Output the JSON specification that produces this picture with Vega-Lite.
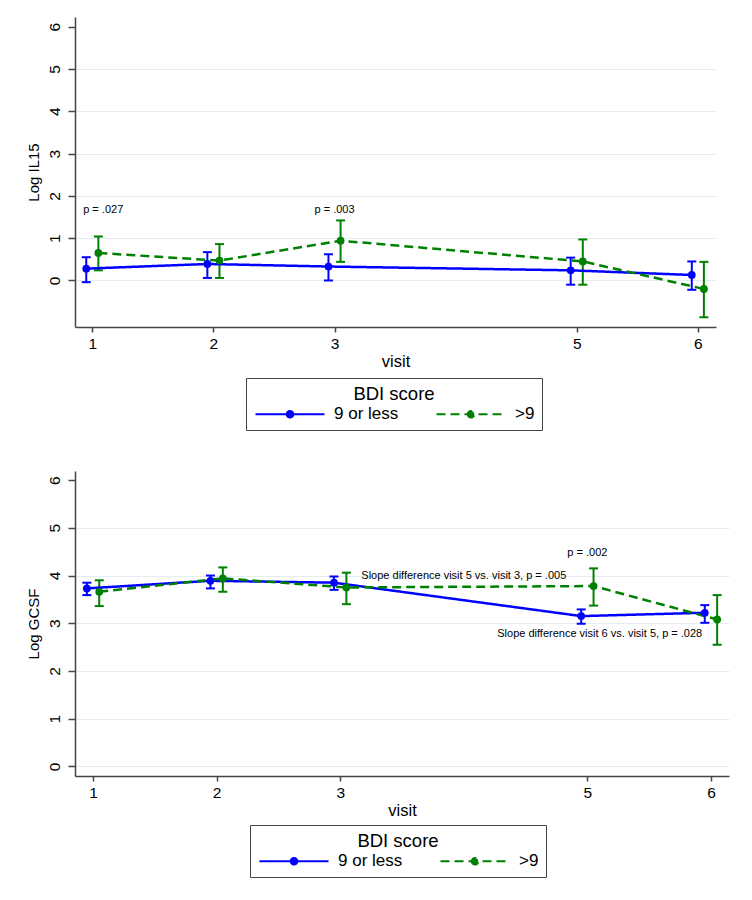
{
  "$schema": "https://vega.github.io/schema/vega-lite/v6.json",
  "background": "white",
  "padding": {"left": 25, "top": 17, "right": 5, "bottom": 5},
  "spacing": 40,
  "config": {
    "view": {"stroke": null},
    "font": "Liberation Sans",
    "axis": {
      "domainColor": "#444", "domainWidth": 1.5, "tickColor": "#444", "tickWidth": 1.5,
      "labelFont": "Liberation Sans", "labelFontSize": 15.5, "labelColor": "#000",
      "titleFont": "Liberation Sans", "titleFontWeight": "normal", "titleColor": "#000",
      "gridColor": "#e4edf0", "gridWidth": 1.2
    },
    "axisX": {"grid": false, "tickSize": 5, "labelPadding": 4, "titlePadding": 2, "titleFontSize": 16.5, "labelFlush": false},
    "axisY": {"tickSize": 7, "labelAngle": 270, "labelAlign": "center", "labelBaseline": "bottom", "labelPadding": 6, "titlePadding": 6, "titleFontSize": 15},
    "legend": {
      "orient": "none", "direction": "horizontal", "columns": 2,
      "symbolType": "M-1,0H10.5M4.2,0a0.55,0.55 0 1,0 1.1,0a0.55,0.55 0 1,0 -1.1,0",
      "symbolSize": 144, "symbolStrokeWidth": 2, "labelOffset": 64, "columnPadding": 33,
      "titleAnchor": "middle", "titleAlign": "center", "titleFont": "Liberation Sans", "titleFontSize": 18.5, "titleFontWeight": "normal", "titleColor": "#000", "titlePadding": 2,
      "labelFont": "Liberation Sans", "labelFontSize": 17, "labelColor": "#000",
      "strokeColor": "#444", "padding": 7
    }
  },
  "datasets": {
    "il15": [
      {"visit": 1, "x": 0.95, "group": "9 or less", "mean": 0.28, "lo": -0.04, "hi": 0.55},
      {"visit": 2, "x": 1.95, "group": "9 or less", "mean": 0.39, "lo": 0.06, "hi": 0.67},
      {"visit": 3, "x": 2.95, "group": "9 or less", "mean": 0.33, "lo": 0.0, "hi": 0.62},
      {"visit": 5, "x": 4.95, "group": "9 or less", "mean": 0.24, "lo": -0.10, "hi": 0.54},
      {"visit": 6, "x": 5.95, "group": "9 or less", "mean": 0.13, "lo": -0.22, "hi": 0.45},
      {"visit": 1, "x": 1.05, "group": ">9", "mean": 0.65, "lo": 0.24, "hi": 1.04},
      {"visit": 2, "x": 2.05, "group": ">9", "mean": 0.47, "lo": 0.06, "hi": 0.86},
      {"visit": 3, "x": 3.05, "group": ">9", "mean": 0.94, "lo": 0.44, "hi": 1.42},
      {"visit": 5, "x": 5.05, "group": ">9", "mean": 0.45, "lo": -0.10, "hi": 0.97},
      {"visit": 6, "x": 6.05, "group": ">9", "mean": -0.20, "lo": -0.87, "hi": 0.44}
    ],
    "il15_notes": [
      {"x": 1.09, "y": 1.67, "text": "p = .027"},
      {"x": 3.0, "y": 1.67, "text": "p = .003"}
    ],
    "gcsf": [
      {"visit": 1, "x": 0.95, "group": "9 or less", "mean": 3.73, "lo": 3.59, "hi": 3.85},
      {"visit": 2, "x": 1.95, "group": "9 or less", "mean": 3.89, "lo": 3.73, "hi": 4.00},
      {"visit": 3, "x": 2.95, "group": "9 or less", "mean": 3.85, "lo": 3.70, "hi": 3.98},
      {"visit": 5, "x": 4.95, "group": "9 or less", "mean": 3.15, "lo": 2.99, "hi": 3.29},
      {"visit": 6, "x": 5.95, "group": "9 or less", "mean": 3.22, "lo": 3.01, "hi": 3.38},
      {"visit": 1, "x": 1.05, "group": ">9", "mean": 3.66, "lo": 3.36, "hi": 3.90},
      {"visit": 2, "x": 2.05, "group": ">9", "mean": 3.94, "lo": 3.66, "hi": 4.17},
      {"visit": 3, "x": 3.05, "group": ">9", "mean": 3.75, "lo": 3.40, "hi": 4.06},
      {"visit": 5, "x": 5.05, "group": ">9", "mean": 3.78, "lo": 3.37, "hi": 4.15},
      {"visit": 6, "x": 6.05, "group": ">9", "mean": 3.08, "lo": 2.55, "hi": 3.59}
    ],
    "gcsf_notes": [
      {"x": 4.0, "y": 3.98, "text": "Slope difference visit 5 vs. visit 3, p = .005"},
      {"x": 5.0, "y": 4.47, "text": "p = .002"},
      {"x": 5.10, "y": 2.78, "text": "Slope difference visit 6 vs. visit 5, p = .028"}
    ]
  },
  "resolve": {
    "scale": {"x": "independent", "y": "independent", "color": "independent", "strokeDash": "independent"},
    "legend": {"color": "independent", "strokeDash": "independent"}
  },
  "vconcat": [
    {
      "width": 641,
      "height": 310,
      "data": {"name": "il15"},
      "encoding": {
        "x": {"field": "x", "type": "quantitative", "scale": {"domain": [0.857, 6.15], "nice": false, "zero": false},
              "axis": {"values": [1, 2, 3, 5, 6], "title": "visit", "format": "d"}},
        "color": {"field": "group", "type": "nominal", "scale": {"domain": ["9 or less", ">9"], "range": ["#0000ff", "#008000"]},
                  "legend": {"title": "BDI score", "legendX": 171, "legendY": 361,
                             "encode": {"symbols": {"update": {"fill": {"signal": "datum.value === '9 or less' ? '#0000ff' : '#008000'"}, "fillOpacity": {"value": 1}}}}}}
      },
      "layer": [
        {
          "mark": {"type": "rule", "strokeWidth": 2},
          "encoding": {
            "y": {"field": "lo", "type": "quantitative", "scale": {"domain": [-1.1, 6.23], "nice": false, "zero": false},
                  "axis": {"values": [0, 1, 2, 3, 4, 5, 6], "title": "Log IL15", "grid": true,
                           "gridOpacity": {"condition": {"test": "datum.value === 6", "value": 0}, "value": 1}}},
            "y2": {"field": "hi"}
          }
        },
        {
          "mark": {"type": "tick", "orient": "horizontal", "size": 9, "thickness": 2, "opacity": 1},
          "encoding": {"y": {"field": "lo", "type": "quantitative"}}
        },
        {
          "mark": {"type": "tick", "orient": "horizontal", "size": 9, "thickness": 2, "opacity": 1},
          "encoding": {"y": {"field": "hi", "type": "quantitative"}}
        },
        {
          "mark": {"type": "line", "strokeWidth": 2.5},
          "encoding": {
            "y": {"field": "mean", "type": "quantitative"},
            "strokeDash": {"field": "group", "type": "nominal", "scale": {"domain": ["9 or less", ">9"], "range": [[1, 0], [9, 5]]},
                           "legend": {"title": "BDI score", "legendX": 171, "legendY": 361}}
          }
        },
        {
          "mark": {"type": "point", "filled": true, "size": 60, "opacity": 1},
          "encoding": {"y": {"field": "mean", "type": "quantitative"}}
        },
        {
          "data": {"name": "il15_notes"},
          "mark": {"type": "text", "font": "Liberation Sans", "fontSize": 11, "color": "#000", "align": "center", "baseline": "middle"},
          "encoding": {
            "x": {"field": "x", "type": "quantitative"},
            "y": {"field": "y", "type": "quantitative"},
            "text": {"field": "text"},
            "color": null
          }
        }
      ]
    },
    {
      "width": 654,
      "height": 305,
      "data": {"name": "gcsf"},
      "encoding": {
        "x": {"field": "x", "type": "quantitative", "scale": {"domain": [0.854, 6.146], "nice": false, "zero": false},
              "axis": {"values": [1, 2, 3, 5, 6], "title": "visit", "format": "d"}},
        "color": {"field": "group", "type": "nominal", "scale": {"domain": ["9 or less", ">9"], "range": ["#0000ff", "#008000"]},
                  "legend": {"title": "BDI score", "legendX": 175, "legendY": 354,
                             "encode": {"symbols": {"update": {"fill": {"signal": "datum.value === '9 or less' ? '#0000ff' : '#008000'"}, "fillOpacity": {"value": 1}}}}}}
      },
      "layer": [
        {
          "mark": {"type": "rule", "strokeWidth": 2},
          "encoding": {
            "y": {"field": "lo", "type": "quantitative", "scale": {"domain": [-0.2, 6.19], "nice": false, "zero": false},
                  "axis": {"values": [0, 1, 2, 3, 4, 5, 6], "title": "Log GCSF", "grid": true,
                           "gridOpacity": {"condition": {"test": "datum.value === 6", "value": 0}, "value": 1}}},
            "y2": {"field": "hi"}
          }
        },
        {
          "mark": {"type": "tick", "orient": "horizontal", "size": 9, "thickness": 2, "opacity": 1},
          "encoding": {"y": {"field": "lo", "type": "quantitative"}}
        },
        {
          "mark": {"type": "tick", "orient": "horizontal", "size": 9, "thickness": 2, "opacity": 1},
          "encoding": {"y": {"field": "hi", "type": "quantitative"}}
        },
        {
          "mark": {"type": "line", "strokeWidth": 2.5},
          "encoding": {
            "y": {"field": "mean", "type": "quantitative"},
            "strokeDash": {"field": "group", "type": "nominal", "scale": {"domain": ["9 or less", ">9"], "range": [[1, 0], [9, 5]]},
                           "legend": {"title": "BDI score", "legendX": 175, "legendY": 354}}
          }
        },
        {
          "mark": {"type": "point", "filled": true, "size": 60, "opacity": 1},
          "encoding": {"y": {"field": "mean", "type": "quantitative"}}
        },
        {
          "data": {"name": "gcsf_notes"},
          "mark": {"type": "text", "font": "Liberation Sans", "fontSize": 11, "color": "#000", "align": "center", "baseline": "middle"},
          "encoding": {
            "x": {"field": "x", "type": "quantitative"},
            "y": {"field": "y", "type": "quantitative"},
            "text": {"field": "text"},
            "color": null
          }
        }
      ]
    }
  ]
}
